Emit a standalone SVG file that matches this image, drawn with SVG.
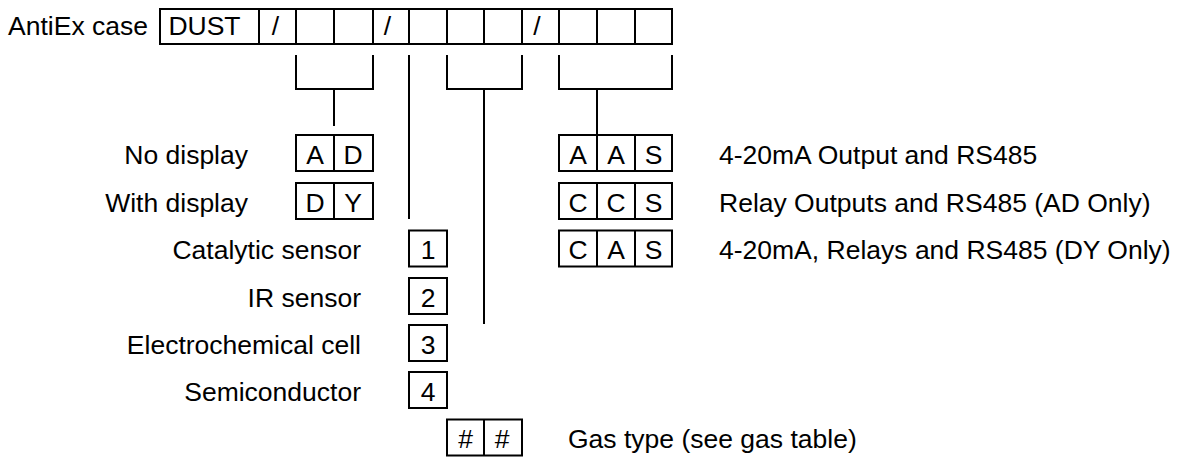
<svg xmlns="http://www.w3.org/2000/svg" width="1179" height="457" viewBox="0 0 1179 457">
<style>
.b{fill:none;stroke:#000;stroke-width:2}
.c{fill:none;stroke:#000;stroke-width:2}
text{font-family:"Liberation Sans",Arial,sans-serif;font-size:26.5px;fill:#000}
.m{text-anchor:middle}
.e{text-anchor:end}
</style>
<rect width="1179" height="457" fill="#fff"/>
<g id="code">
<text x="148" y="35" class="e">AntiEx case</text>
<rect class="b" x="160" y="9" width="512" height="35"/>
<path class="b" d="M259 9V44M296 9V44M334 9V44M373 9V44M409 9V44M447 9V44M484 9V44M522 9V44M559 9V44M597 9V44M635 9V44"/>
<text x="204.5" y="35" class="m">DUST</text>
<text x="275.5" y="35" class="m">/</text>
<text x="387.5" y="35" class="m">/</text>
<text x="537" y="35" class="m">/</text>
</g>
<g id="connectors">
<path class="c" d="M296 55V89H373V55M334 89V126"/>
<path class="c" d="M409 55V219"/>
<path class="c" d="M447 55V89H522V55M484 89V324"/>
<path class="c" d="M559 55V89H672V55M597 89V135"/>
</g>
<g id="ad">
<text x="248" y="164" class="e">No display</text>
<rect class="b" x="296" y="135" width="77" height="36"/>
<path class="b" d="M334 135V171"/>
<text x="315" y="164" class="m">A</text>
<text x="353" y="164" class="m">D</text>
</g>
<g id="dy">
<text x="248" y="212" class="e">With display</text>
<rect class="b" x="296" y="183" width="77" height="36"/>
<path class="b" d="M334 183V219"/>
<text x="315" y="212" class="m">D</text>
<text x="353" y="212" class="m">Y</text>
</g>
<g id="s1">
<text x="361" y="259" class="e">Catalytic sensor</text>
<rect class="b" x="409" y="230.5" width="38" height="36"/>
<text x="428" y="259" class="m">1</text>
</g>
<g id="s2">
<text x="361" y="306.5" class="e">IR sensor</text>
<rect class="b" x="409" y="278" width="38" height="36"/>
<text x="428" y="306.5" class="m">2</text>
</g>
<g id="s3">
<text x="361" y="353.5" class="e">Electrochemical cell</text>
<rect class="b" x="409" y="325" width="38" height="36"/>
<text x="428" y="353.5" class="m">3</text>
</g>
<g id="s4">
<text x="361" y="400.5" class="e">Semiconductor</text>
<rect class="b" x="409" y="372" width="38" height="36"/>
<text x="428" y="400.5" class="m">4</text>
</g>
<g id="gas">
<rect class="b" x="447" y="419.5" width="75" height="36"/>
<path class="b" d="M484 419.5V455.5"/>
<text x="465.5" y="448" class="m">#</text>
<text x="502" y="448" class="m">#</text>
<text x="568" y="448">Gas type (see gas table)</text>
</g>
<g id="aas">
<rect class="b" x="559" y="135" width="113" height="36"/>
<path class="b" d="M597 135V171M635 135V171"/>
<text x="578" y="164" class="m">A</text>
<text x="616" y="164" class="m">A</text>
<text x="653.5" y="164" class="m">S</text>
<text x="719" y="164">4-20mA Output and RS485</text>
</g>
<g id="ccs">
<rect class="b" x="559" y="183" width="113" height="36"/>
<path class="b" d="M597 183V219M635 183V219"/>
<text x="578" y="212" class="m">C</text>
<text x="616" y="212" class="m">C</text>
<text x="653.5" y="212" class="m">S</text>
<text x="719" y="212">Relay Outputs and RS485 (AD Only)</text>
</g>
<g id="cas">
<rect class="b" x="559" y="230.5" width="113" height="36"/>
<path class="b" d="M597 230.5V266.5M635 230.5V266.5"/>
<text x="578" y="259" class="m">C</text>
<text x="616" y="259" class="m">A</text>
<text x="653.5" y="259" class="m">S</text>
<text x="719" y="259">4-20mA, Relays and RS485 (DY Only)</text>
</g>
</svg>
